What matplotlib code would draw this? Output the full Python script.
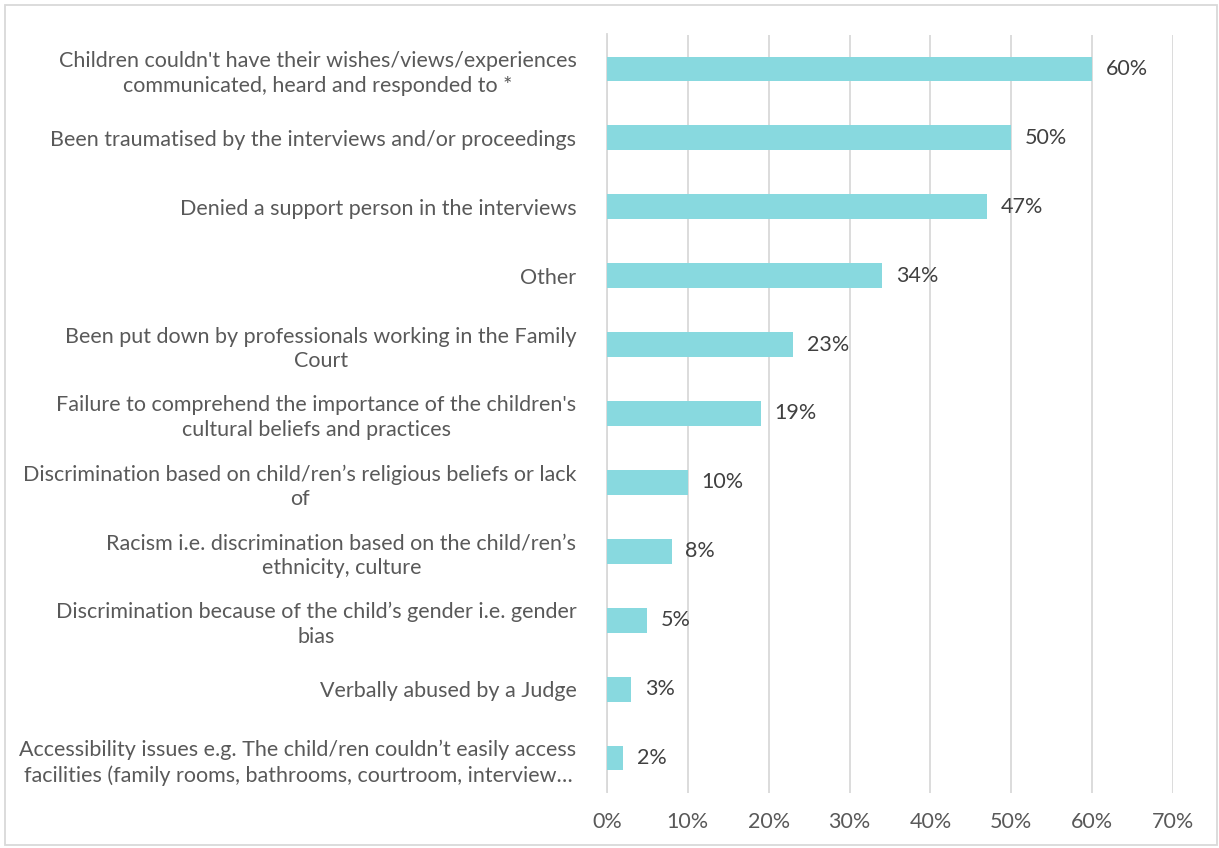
import matplotlib.pyplot as plt
from matplotlib.patches import Rectangle
from matplotlib.ticker import FuncFormatter

plt.rcParams['font.family'] = ['Lato', 'DejaVu Sans']

categories = [
    "Children couldn't have their wishes/views/experiences\ncommunicated, heard and responded to *",
    "Been traumatised by the interviews and/or proceedings",
    "Denied a support person in the interviews",
    "Other",
    "Been put down by professionals working in the Family\nCourt",
    "Failure to comprehend the importance of the children's\ncultural beliefs and practices",
    "Discrimination based on child/ren\u2019s religious beliefs or lack\nof",
    "Racism i.e. discrimination based on the child/ren\u2019s\nethnicity, culture",
    "Discrimination because of the child\u2019s gender i.e. gender\nbias",
    "Verbally abused by a Judge",
    "Accessibility issues e.g. The child/ren couldn\u2019t easily access\nfacilities (family rooms, bathrooms, courtroom, interview\u2026",
]
values = [60, 50, 47, 34, 23, 19, 10, 8, 5, 3, 2]
xticks = [0, 10, 20, 30, 40, 50, 60, 70]

bar_color = '#88D9DF'
grid_color = '#D9D9D9'
label_color = '#595959'
fs = 15.5

fig = plt.figure(figsize=(12.19, 8.48), dpi=100)
ax = fig.add_axes([607 / 1219, 1 - 792.5 / 848, (1173 - 607) / 1219, (792.5 - 34.5) / 848])

ypos = list(range(len(categories)))
ax.barh(ypos, values, height=0.36, color=bar_color, zorder=3)
for y, v in zip(ypos, values):
    ax.text(v + 1.7, y, f'{v}%', va='center', ha='left', fontsize=fs,
            color='#404040', zorder=4)

ax.set_xlim(0, 70)
ax.set_ylim(len(categories) - 0.5, -0.5)
ax.set_xticks(xticks)
ax.xaxis.set_major_formatter(FuncFormatter(lambda x, _: f'{x:.0f}%'))
ax.set_yticks(ypos)
ax.set_yticklabels(categories, fontsize=fs, color=label_color, linespacing=1.3,
                   multialignment='center')
ax.tick_params(axis='y', length=0, pad=22)
ax.tick_params(axis='x', length=0, pad=14, labelsize=fs, labelcolor=label_color)
ax.grid(axis='x', color=grid_color, linewidth=1.3, zorder=0)
for s in ['top', 'right', 'bottom']:
    ax.spines[s].set_visible(False)
ax.spines['left'].set_color(grid_color)
ax.spines['left'].set_linewidth(1.3)

# light frame around the whole chart area
fig.patches.append(Rectangle((5 / 1219, 3 / 848), 1212 / 1219, 840 / 848,
                             transform=fig.transFigure, fill=False,
                             edgecolor='#D9D9D9', linewidth=1.3))

fig.savefig('out.png', dpi=100)
